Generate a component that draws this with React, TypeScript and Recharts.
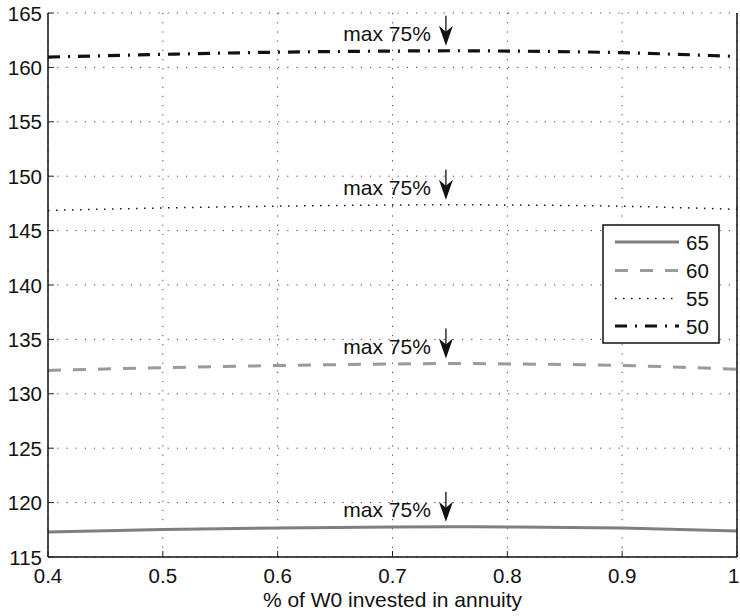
import React from 'react';
import { LineChart, Line, XAxis, YAxis, CartesianGrid, ReferenceDot, Customized } from 'recharts';

const xValues = [0.4, 0.5, 0.6, 0.7, 0.75, 0.8, 0.9, 1.0];
const age65 = [117.3, 117.52, 117.67, 117.76, 117.78, 117.76, 117.66, 117.38];
const age60 = [132.15, 132.4, 132.6, 132.74, 132.78, 132.75, 132.6, 132.25];
const age55 = [146.85, 147.08, 147.25, 147.35, 147.38, 147.35, 147.24, 146.95];
const age50 = [160.95, 161.2, 161.4, 161.5, 161.53, 161.5, 161.35, 161.0];

const xTicks = [0.4, 0.5, 0.6, 0.7, 0.8, 0.9, 1];
const yTicks = [115, 120, 125, 130, 135, 140, 145, 150, 155, 160, 165];
const maxX = 0.75;
const maxLabel = 'max 75%';
const xLabel = '% of W0 invested in annuity';

const seriesNames = ['65', '60', '55', '50'];
const seriesValues = [age65, age60, age55, age50];

const data = xValues.map((x, i) => ({
  x,
  s65: age65[i],
  s60: age60[i],
  s55: age55[i],
  s50: age50[i],
}));

const FONT = '"Liberation Sans", Arial, Helvetica, sans-serif';

const styles = [
  { key: 's65', color: '#7f7f7f', width: 3, dash: undefined as string | undefined },
  { key: 's60', color: '#9a9a9a', width: 3, dash: '13 12' },
  { key: 's55', color: '#111', width: 1.5, dash: '1.5 6.5' },
  { key: 's50', color: '#111', width: 3.2, dash: '12 8 2 8' },
];

const LeftTick = (props: any) => {
  const { x, y, payload } = props;
  return (
    <g>
      <line x1={x} x2={x + 6} y1={y} y2={y} stroke="#222" strokeWidth={1} />
      <text x={x - 6} y={y} textAnchor="end" dominantBaseline="central" fontSize={20.5} fontFamily={FONT} fill="#111">
        {payload.value}
      </text>
    </g>
  );
};

const RightTick = (props: any) => {
  const { x, y } = props;
  return <line x1={x} x2={x - 6} y1={y} y2={y} stroke="#222" strokeWidth={1} />;
};

const BottomTick = (props: any) => {
  const { x, y, payload, index } = props;
  const last = index === xTicks.length - 1;
  return (
    <g>
      <line x1={x} x2={x} y1={y} y2={y - 6} stroke="#222" strokeWidth={1} />
      <text
        x={last ? x + 2.5 : x}
        y={y + 26}
        textAnchor={last ? 'end' : 'middle'}
        fontSize={20.5}
        fontFamily={FONT}
        fill="#111"
      >
        {String(payload.value)}
      </text>
    </g>
  );
};

const TopTick = (props: any) => {
  const { x, y } = props;
  return <line x1={x} x2={x} y1={y} y2={y + 6} stroke="#222" strokeWidth={1} />;
};

const MaxMarker = (props: any) => {
  const { cx, cy } = props;
  const ax = cx - 4;
  const tip = cy - 5;
  return (
    <g>
      <line x1={ax} x2={ax} y1={tip - 30} y2={tip - 10} stroke="#111" strokeWidth={1.3} />
      <polygon
        points={`${ax},${tip} ${ax - 7},${tip - 20} ${ax},${tip - 14} ${ax + 7},${tip - 20}`}
        fill="#111"
      />
      <text x={cx - 19} y={cy - 10} textAnchor="end" fontSize={21} fontFamily={FONT} fill="#111">
        {maxLabel}
      </text>
    </g>
  );
};

const LegendBox = () => {
  const bx = 603;
  const by = 225;
  const rows = [242, 270.5, 298.5, 326];
  return (
    <g>
      <rect x={bx} y={by} width={116} height={118} fill="#fff" stroke="#111" strokeWidth={1.5} />
      {seriesNames.map((name, i) => (
        <g key={name}>
          <line
            x1={615}
            x2={679}
            y1={rows[i]}
            y2={rows[i]}
            stroke={styles[i].color}
            strokeWidth={styles[i].width}
            strokeDasharray={styles[i].dash}
          />
          <text x={686} y={rows[i]} dominantBaseline="central" fontSize={20.5} fontFamily={FONT} fill="#111">
            {name}
          </text>
        </g>
      ))}
    </g>
  );
};

const XTitle = () => (
  <text x={392.5} y={607} textAnchor="middle" fontSize={21} fontFamily={FONT} fill="#111">
    {xLabel}
  </text>
);

export default function App() {
  return (
    <div style={{ position: 'absolute', left: 0, top: 0, background: '#fff' }}>
      <LineChart width={740} height={616} data={data} margin={{ top: 13, right: 0, bottom: 0, left: 0 }}>
        <CartesianGrid stroke="#444" strokeDasharray="1.2 8" strokeWidth={1} />
        <XAxis
          dataKey="x"
          type="number"
          domain={[0.4, 1]}
          ticks={xTicks}
          height={59}
          tickSize={0}
          tickMargin={0}
          tick={<BottomTick />}
          axisLine={{ stroke: '#111', strokeWidth: 1.5 }}
          tickLine={false}
          interval={0}
        />
        <XAxis
          xAxisId="top"
          orientation="top"
          dataKey="x"
          type="number"
          domain={[0.4, 1]}
          ticks={xTicks}
          height={0}
          tickSize={0}
          tickMargin={0}
          tick={<TopTick />}
          axisLine={{ stroke: '#111', strokeWidth: 1.5 }}
          tickLine={false}
          interval={0}
        />
        <YAxis
          type="number"
          domain={[115, 165]}
          ticks={yTicks}
          width={48}
          tickSize={0}
          tickMargin={0}
          tick={<LeftTick />}
          axisLine={{ stroke: '#111', strokeWidth: 1.5 }}
          tickLine={false}
          interval={0}
        />
        <YAxis
          yAxisId="right"
          orientation="right"
          type="number"
          domain={[115, 165]}
          ticks={yTicks}
          width={3}
          tickSize={0}
          tickMargin={0}
          tick={<RightTick />}
          axisLine={{ stroke: '#111', strokeWidth: 1.5 }}
          tickLine={false}
          interval={0}
        />
        {styles.map((s) => (
          <Line
            key={s.key}
            type="monotone"
            dataKey={s.key}
            stroke={s.color}
            strokeWidth={s.width}
            strokeDasharray={s.dash}
            dot={false}
            activeDot={false}
            isAnimationActive={false}
          />
        ))}
        {seriesValues.map((vals, i) => (
          <ReferenceDot
            key={'m' + i}
            x={maxX}
            y={vals[xValues.indexOf(maxX)]}
            shape={<MaxMarker />}
            ifOverflow="visible"
          />
        ))}
        <Customized component={<LegendBox />} />
        <Customized component={<XTitle />} />
      </LineChart>
    </div>
  );
}
